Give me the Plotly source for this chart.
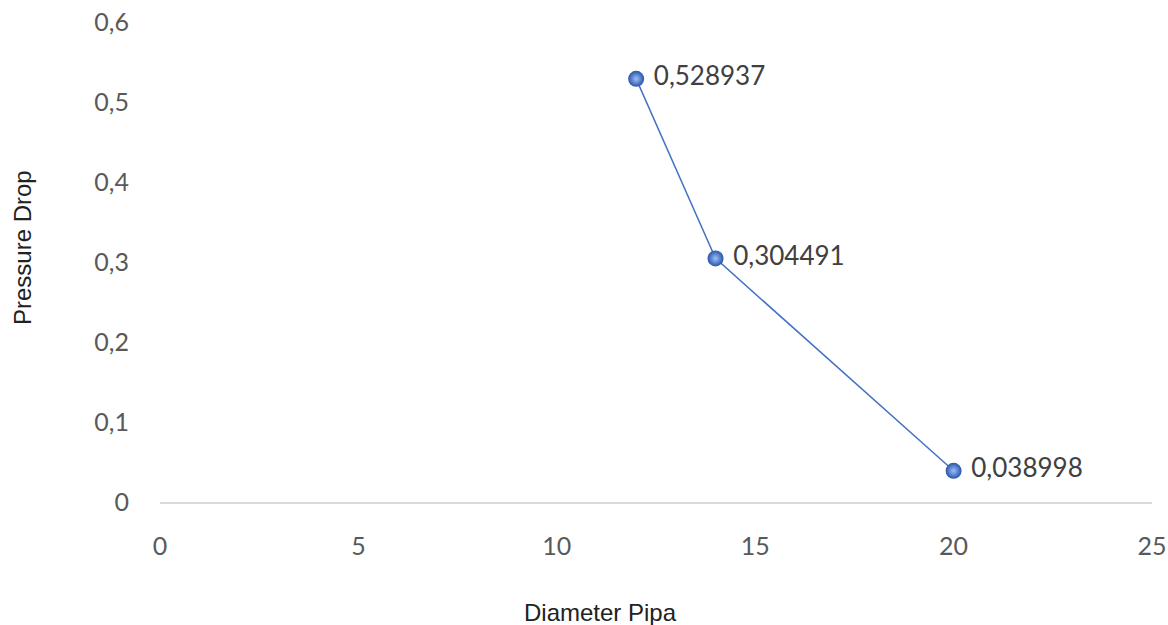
import plotly.graph_objects as go

diameter = [12, 14, 20]
pressure_drop = [0.528937, 0.304491, 0.038998]
labels = ["\u00a0" + str(v).replace(".", ",") for v in pressure_drop]

x_ticks = [0, 5, 10, 15, 20, 25]
y_ticks = [0, 0.1, 0.2, 0.3, 0.4, 0.5, 0.6]

W, H = 1168, 625
L, R, T, B = 160, 16, 22, 123

fig = go.Figure()
fig.add_trace(go.Scatter(
    x=diameter, y=pressure_drop, mode="lines+markers+text",
    text=labels, textposition="middle right",
    textfont=dict(family="Lato, Open Sans, sans-serif", size=26, color="#404040"),
    line=dict(color="#4472C4", width=1.5),
    marker=dict(size=16, color="#2A54A8",
                gradient=dict(type="radial", color="#9CC0FA"),
                line=dict(width=0)),
    cliponaxis=False, showlegend=False,
))

pw, ph = W - L - R, H - T - B


def px(xp):
    return (xp - L) / pw


def py(yp):
    return (H - B - yp) / ph


fig.update_layout(
    width=W, height=H,
    margin=dict(l=L, r=R, t=T, b=B, autoexpand=False),
    paper_bgcolor="white", plot_bgcolor="white",
    separators=",.",
    font=dict(family="Lato, Open Sans, sans-serif", size=25, color="#595959"),
    xaxis=dict(range=[0, 25], tickvals=x_ticks, showgrid=False, zeroline=False,
               showline=True, linecolor="#D9D9D9", linewidth=2,
               ticks="", ticklabelstandoff=21, automargin=False,
               ticklabeloverflow="allow",
               tickfont=dict(size=25, color="#595959")),
    yaxis=dict(range=[0, 0.6], tickvals=y_ticks, showgrid=False, zeroline=False,
               showline=False, ticks="", ticklabelstandoff=30, automargin=False,
               ticklabeloverflow="allow",
               tickfont=dict(size=25, color="#595959")),
    annotations=[
        dict(text="Diameter Pipa", x=px(600), y=py(612), xref="paper", yref="paper",
             xanchor="center", yanchor="middle", showarrow=False,
             font=dict(family="Arial, Liberation Sans", size=24, color="#222")),
        dict(text="Pressure Drop", x=px(22), y=py(248), xref="paper", yref="paper",
             xanchor="center", yanchor="middle", showarrow=False, textangle=-90,
             font=dict(family="Arial, Liberation Sans", size=24, color="#222")),
    ],
)

fig.write_html("out.html", config={"displayModeBar": False},
               post_script="document.body.style.margin='0';document.body.style.overflow='hidden';")
